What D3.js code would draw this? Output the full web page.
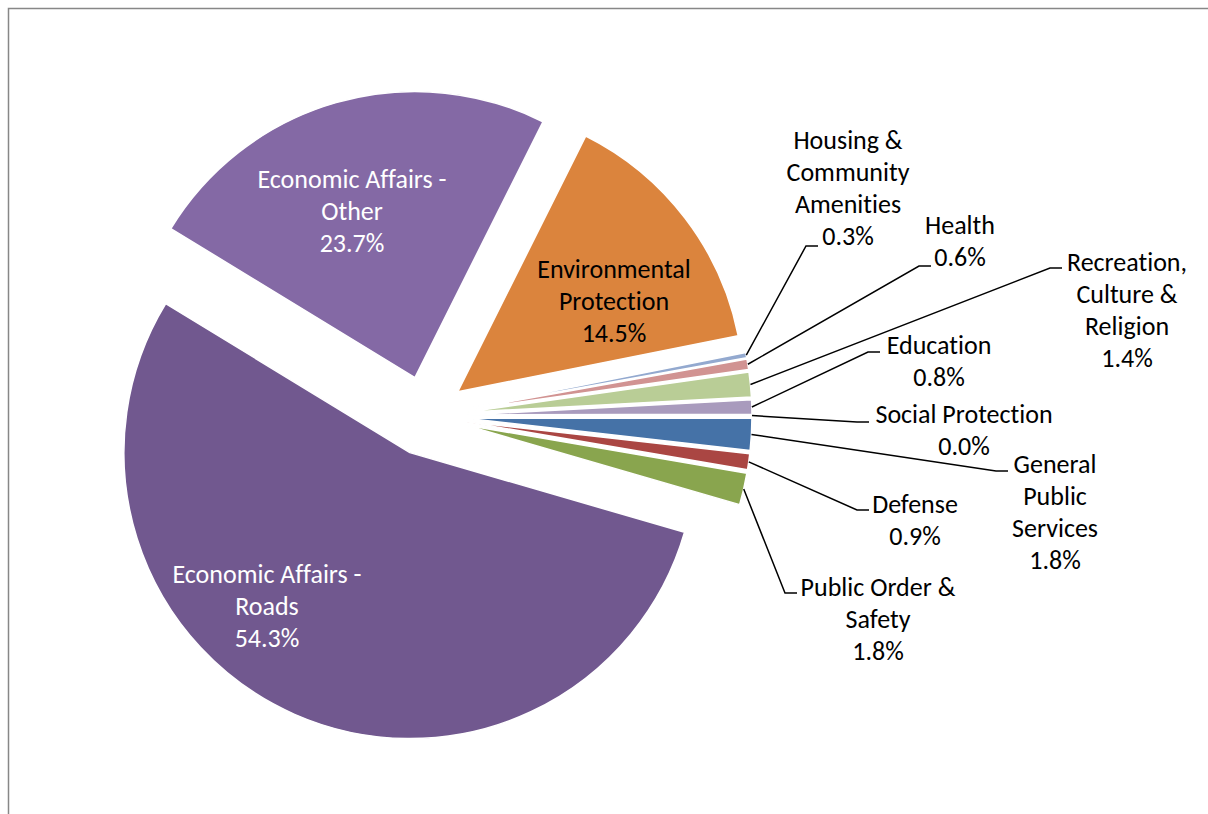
<!DOCTYPE html>
<html>
<head>
<meta charset="utf-8">
<script src="https://cdn.jsdelivr.net/npm/d3@7"></script>
<style>
  body { margin: 0; background: #fff; }
  svg text { font-family: Carlito, Lato, 'Open Sans', sans-serif; font-variant-ligatures: none; }
</style>
</head>
<body>
<div id="chart"></div>
<script>
// spending shares, in Excel's series order (first slice at 3 o'clock, clockwise)
const categories = [
  'General Public Services', 'Defense', 'Public Order & Safety',
  'Economic Affairs - Roads', 'Economic Affairs - Other', 'Environmental Protection',
  'Housing & Community Amenities', 'Health', 'Recreation, Culture & Religion',
  'Education', 'Social Protection'
];
const shares = [1.8, 0.9, 1.8, 54.3, 23.7, 14.5, 0.3, 0.6, 1.4, 0.8, 0.04];
const labelLines = [
  ['General', 'Public', 'Services'], ['Defense'], ['Public Order &', 'Safety'],
  ['Economic Affairs -', 'Roads'], ['Economic Affairs -', 'Other'], ['Environmental', 'Protection'],
  ['Housing &', 'Community', 'Amenities'], ['Health'], ['Recreation,', 'Culture &', 'Religion'],
  ['Education'], ['Social Protection']
];
const colors = [
  '#4572a7', '#aa4643', '#89a54e', '#71588f', '#8469a5', '#db843d',
  '#93a9cf', '#d19392', '#b9cd96', '#a99bbd', '#92c3d4'
];

const width = 1208;
const height = 814;
const cx = 426;
const cy = 416;
const radius = 286;
const explode = 40;
const fontSize = 26;
const lineHeight = 32;

// label layout: text centre x, first baseline y, leader end point
const insideLabels = {
  'Economic Affairs - Roads': {x: 267, y: 583, fill: '#fff'},
  'Economic Affairs - Other': {x: 352, y: 188, fill: '#fff'},
  'Environmental Protection': {x: 614, y: 278, fill: '#000'}
};
const outsideLabels = {
  'Housing & Community Amenities': {x: 848, y: 149, end: [818, 246]},
  'Health': {x: 960, y: 234, end: [931, 266]},
  'Recreation, Culture & Religion': {x: 1127, y: 271, end: [1062, 268]},
  'Education': {x: 939, y: 354, end: [880, 352]},
  'Social Protection': {x: 964, y: 423, end: [869, 422]},
  'General Public Services': {x: 1055, y: 473, end: [1008, 471]},
  'Defense': {x: 915, y: 513, end: [869, 510]},
  'Public Order & Safety': {x: 878, y: 596, end: [797, 593]}
};

const fmt = d3.format('.1f');

const svg = d3.select('#chart').append('svg')
  .attr('width', width)
  .attr('height', height);

// chart area border (right and bottom edges fall outside the picture)
svg.append('rect')
  .attr('x', 8.5).attr('y', 8.5)
  .attr('width', width + 20).attr('height', height + 20)
  .attr('fill', 'none')
  .attr('stroke', '#878787')
  .attr('stroke-width', 1.5);

const data = categories.map((name, i) => ({name, value: shares[i], lines: labelLines[i], color: colors[i]}));

const pie = d3.pie()
  .value(d => d.value)
  .sort(null)
  .startAngle(Math.PI / 2)
  .endAngle(Math.PI / 2 + 2 * Math.PI);

const arc = d3.arc().innerRadius(0).outerRadius(radius);
const arcs = pie(data);

const mid = d => (d.startAngle + d.endAngle) / 2;
const offset = d => d3.pointRadial(mid(d), explode);

const root = svg.append('g').attr('transform', `translate(${cx},${cy})`);

root.append('g')
  .selectAll('path')
  .data(arcs)
  .join('path')
  .attr('transform', d => `translate(${offset(d)})`)
  .attr('d', arc)
  .attr('fill', d => d.data.color)
  .attr('stroke', '#fff')
  .attr('stroke-width', 1.5)
  .attr('stroke-linejoin', 'round');

// leader lines for the small slices
const small = arcs.filter(d => outsideLabels[d.data.name]);

root.append('g')
  .selectAll('polyline')
  .data(small)
  .join('polyline')
  .attr('fill', 'none')
  .attr('stroke', '#000')
  .attr('stroke-width', 1.5)
  .attr('points', d => {
    const o = offset(d);
    const p = d3.pointRadial(mid(d), radius);
    const lab = outsideLabels[d.data.name];
    const ex = lab.end[0] - cx, ey = lab.end[1] - cy;
    return [[o[0] + p[0], o[1] + p[1]], [ex - 12, ey], [ex, ey]].join(' ');
  });

function drawLabel(sel, d, lab, fill) {
  const t = sel.append('text')
    .attr('text-anchor', 'middle')
    .attr('font-size', fontSize)
    .attr('fill', fill);
  d.data.lines.concat([fmt(d.data.value) + '%']).forEach((line, i) => {
    t.append('tspan')
      .attr('x', lab.x)
      .attr('y', lab.y + i * lineHeight)
      .text(line);
  });
}

const labels = svg.append('g');
arcs.forEach(d => {
  const inside = insideLabels[d.data.name];
  if (inside) drawLabel(labels, d, inside, inside.fill);
  const outside = outsideLabels[d.data.name];
  if (outside) drawLabel(labels, d, outside, '#000');
});
</script>
</body>
</html>
